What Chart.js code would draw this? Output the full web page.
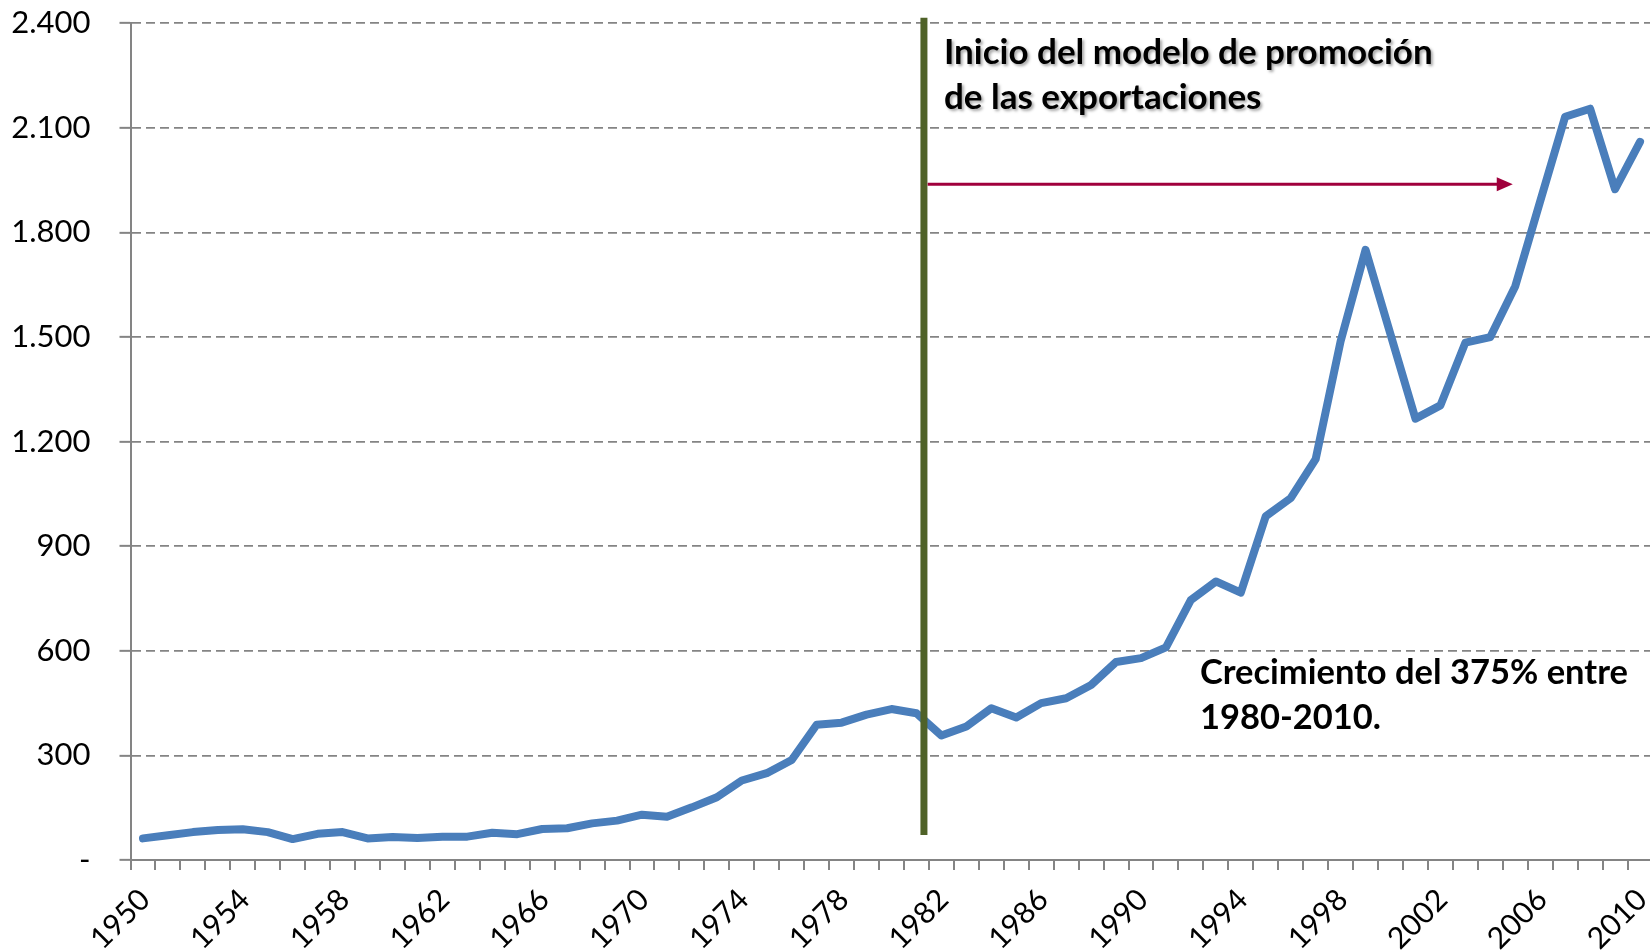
<!DOCTYPE html>
<html lang="es">
<head>
<meta charset="utf-8">
<title>Exportaciones 1950-2010</title>
<script src="https://cdn.jsdelivr.net/npm/chart.js@4.4.1/dist/chart.umd.min.js"></script>
<style>
  html, body { margin: 0; padding: 0; background: #fff; overflow: hidden; }
  canvas { display: block; }
</style>
</head>
<body>
<canvas id="grafica" width="1653" height="950"></canvas>
<script>
// Categorías del eje X (años)
const anios = [
  '1950', '1951', '1952', '1953', '1954', '1955', '1956', '1957', '1958', '1959',
  '1960', '1961', '1962', '1963', '1964', '1965', '1966', '1967', '1968', '1969',
  '1970', '1971', '1972', '1973', '1974', '1975', '1976', '1977', '1978', '1979',
  '1980', '1981', '1982', '1983', '1984', '1985', '1986', '1987', '1988', '1989',
  '1990', '1991', '1992', '1993', '1994', '1995', '1996', '1997', '1998', '1999',
  '2000', '2001', '2002', '2003', '2004', '2005', '2006', '2007', '2008', '2009',
  '2010'
];

// Serie
const valores = [
  62, 71, 80, 86, 88, 80, 60, 75, 80, 62,
  66, 63, 67, 67, 78, 74, 89, 91, 105, 113,
  130, 124, 151, 180, 228, 249, 287, 388, 394, 417,
  433, 421, 357, 383, 435, 409, 450, 464, 502, 568,
  579, 610, 746, 799, 767, 986, 1038, 1150, 1488, 1750,
  1508, 1266, 1304, 1484, 1500, 1646, 1890, 2132, 2155, 1924,
  2060
];

// Años que llevan etiqueta en el eje X
const aniosVisibles = ['1950', '1954', '1958', '1962', '1966', '1970', '1974', '1978',
  '1982', '1986', '1990', '1994', '1998', '2002', '2006', '2010'];

// Eje Y
const yMinimo = 0;
const yMaximo = 2400;
const yPaso = 300;

// Textos de las anotaciones
const textoModelo = ['Inicio del modelo de promoción', 'de las exportaciones'];
const textoCrecimiento = ['Crecimiento del 375% entre', '1980-2010.'];

// Posición de las anotaciones en unidades de los ejes (índice de año / valor)
const lineaInicio = { x: 31.3, desde: 72, hasta: 2416 };
const flecha = { desde: 31.45, hasta: 54.9, y: 1938 };
const posModelo = { x: 32.1, y: 2282 };
const posCrecimiento = { x: 42.36, y: 505 };

const GRIS = '#848484';

function formatearMiles(valor) {
  if (valor === 0) return '-';
  return String(valor).replace(/\B(?=(\d{3})+(?!\d))/g, '.');
}

function escribirLineas(ctx, lineas, x, y, interlineado) {
  lineas.forEach((linea, i) => ctx.fillText(linea, x, y + i * interlineado));
}

const anotaciones = {
  id: 'anotaciones',
  afterDatasetsDraw(chart) {
    const { ctx, scales: { x, y } } = chart;
    ctx.save();

    // Línea vertical verde
    const xl = x.getPixelForValue(lineaInicio.x);
    ctx.strokeStyle = '#4F6228';
    ctx.lineWidth = 7;
    ctx.beginPath();
    ctx.moveTo(xl, y.getPixelForValue(lineaInicio.hasta));
    ctx.lineTo(xl, y.getPixelForValue(lineaInicio.desde));
    ctx.stroke();

    // Flecha horizontal
    const fy = y.getPixelForValue(flecha.y);
    const fx1 = x.getPixelForValue(flecha.desde);
    const fx2 = x.getPixelForValue(flecha.hasta);
    ctx.strokeStyle = '#A0003C';
    ctx.fillStyle = '#A0003C';
    ctx.lineWidth = 3;
    ctx.beginPath();
    ctx.moveTo(fx1, fy);
    ctx.lineTo(fx2 - 12, fy);
    ctx.stroke();
    ctx.beginPath();
    ctx.moveTo(fx2, fy);
    ctx.lineTo(fx2 - 16, fy - 7);
    ctx.lineTo(fx2 - 16, fy + 7);
    ctx.closePath();
    ctx.fill();

    // Textos
    ctx.textAlign = 'left';
    ctx.textBaseline = 'alphabetic';
    ctx.fillStyle = '#000';

    ctx.save();
    ctx.font = 'bold 35px Lato';
    ctx.shadowColor = 'rgba(0, 0, 0, 0.35)';
    ctx.shadowOffsetX = 2;
    ctx.shadowOffsetY = 2;
    ctx.shadowBlur = 3;
    escribirLineas(ctx, textoModelo, x.getPixelForValue(posModelo.x), y.getPixelForValue(posModelo.y), 45);
    ctx.restore();

    ctx.font = 'bold 34.5px Lato';
    escribirLineas(ctx, textoCrecimiento, x.getPixelForValue(posCrecimiento.x), y.getPixelForValue(posCrecimiento.y), 45);

    ctx.restore();
  }
};

const contexto = document.getElementById('grafica').getContext('2d');

new Chart(contexto, {
  type: 'line',
  data: {
    labels: anios,
    datasets: [{
      label: 'Exportaciones',
      data: valores,
      borderColor: '#4A7EBB',
      backgroundColor: '#4A7EBB',
      borderWidth: 8,
      borderJoinStyle: 'round',
      borderCapStyle: 'round',
      pointRadius: 0,
      tension: 0,
      fill: false
    }]
  },
  options: {
    responsive: false,
    animation: false,
    devicePixelRatio: 1,
    layout: { padding: { top: 23.3, right: 0.5, left: 0, bottom: 0 } },
    plugins: {
      legend: { display: false },
      tooltip: { enabled: false }
    },
    scales: {
      x: {
        offset: true,
        grid: {
          offset: true,
          drawOnChartArea: false,
          drawTicks: true,
          tickLength: 10,
          color: GRIS,
          lineWidth: 2
        },
        border: { display: true, color: GRIS, width: 2 },
        ticks: {
          autoSkip: false,
          maxRotation: 45,
          minRotation: 45,
          padding: 12,
          labelOffset: 2,
          color: '#000',
          font: { family: 'Lato', size: 30 },
          callback(valor) {
            const etiqueta = this.getLabelForValue(valor);
            return aniosVisibles.includes(etiqueta) ? etiqueta : '';
          }
        },
        afterFit(escala) {
          escala.height = 90;
          escala.paddingLeft = 0;
          escala.paddingRight = 0;
        }
      },
      y: {
        min: yMinimo,
        max: yMaximo,
        grid: {
          color: ctx => (ctx.tick && ctx.tick.value === 0 ? 'rgba(0,0,0,0)' : GRIS),
          lineWidth: 1.7,
          drawTicks: true,
          tickLength: 11,
          tickColor: GRIS,
          tickWidth: 2
        },
        border: { display: true, color: GRIS, width: 2, dash: [9, 5] },
        ticks: {
          stepSize: yPaso,
          padding: 29,
          color: '#000',
          font: { family: 'Lato', size: 31 },
          callback: valor => formatearMiles(valor)
        },
        afterFit(escala) {
          escala.width = 130.5;
          escala.paddingTop = 0;
          escala.paddingBottom = 0;
        }
      }
    }
  },
  plugins: [anotaciones]
});
</script>
</body>
</html>
